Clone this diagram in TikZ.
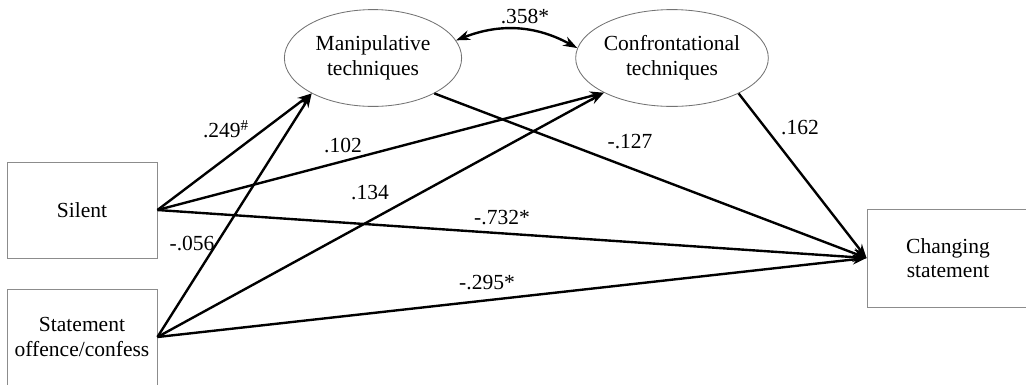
\documentclass[tikz,border=0pt]{standalone}
\usepackage{fontspec}
\setmainfont{Liberation Serif}
\usetikzlibrary{arrows.meta,shapes.geometric}
\tikzset{
  varbox/.style={draw=gray!90, line width=0.6pt, rectangle, align=center, inner sep=0pt},
  latent/.style={draw=gray!90!black, line width=0.6pt, ellipse, align=center, inner sep=0pt, minimum height=2.42cm},
  path/.style={line width=1.7pt, -{Stealth[length=10pt,width=7pt]}},
  coef/.style={inner sep=1pt}
}
\begin{document}
\begin{tikzpicture}[x=0.025cm, y=-0.025cm, font=\fontsize{15.3}{17.5}\selectfont]
\useasboundingbox (0,0) rectangle (1026,384);
\node[varbox, minimum width=3.75cm, minimum height=2.4cm] (sil) at (82,210){Silent};
\node[varbox, minimum width=3.75cm, minimum height=2.4cm] (stm) at (82,337){Statement\\offence/confess};
\node[varbox, minimum width=4.05cm, minimum height=2.45cm] (chg) at (948,258){Changing\\statement};
\node[latent, minimum width=4.43cm] (man) at (373,58){Manipulative\\techniques};
\node[latent, minimum width=4.65cm] (con) at (672,58){Confrontational\\techniques};
\draw[line width=1.7pt, {Stealth[length=10pt,width=7pt]}-{Stealth[length=10pt,width=7pt]}] (man.12) to[bend left=25] (con.174);
\draw[path](sil.east) -- (man.210);
\draw[path](stm.east) -- (man.210);
\draw[path](sil.east) -- (con.207);
\draw[path](stm.east) -- (con.207);
\draw[path](man.330) -- (chg.west);
\draw[path](con.-28) -- (chg.west);
\draw[path](sil.east) -- (chg.west);
\draw[path](stm.east) -- (chg.west);
\node[coef] (c358) at (525,16){.358*};
\node[coef] (c249) at (226,129){.249$^{\#}$};
\node[coef] (c102) at (343,145){.102};
\node[coef] (c134) at (370,193){.134};
\node[coef] (c056) at (192,243){-.056};
\node[coef] (c127) at (630,142){-.127};
\node[coef] (c162) at (800,128){.162};
\node[coef] (c732) at (502,218){-.732*};
\node[coef] (c295) at (487,283){-.295*};
\end{tikzpicture}
\end{document}
